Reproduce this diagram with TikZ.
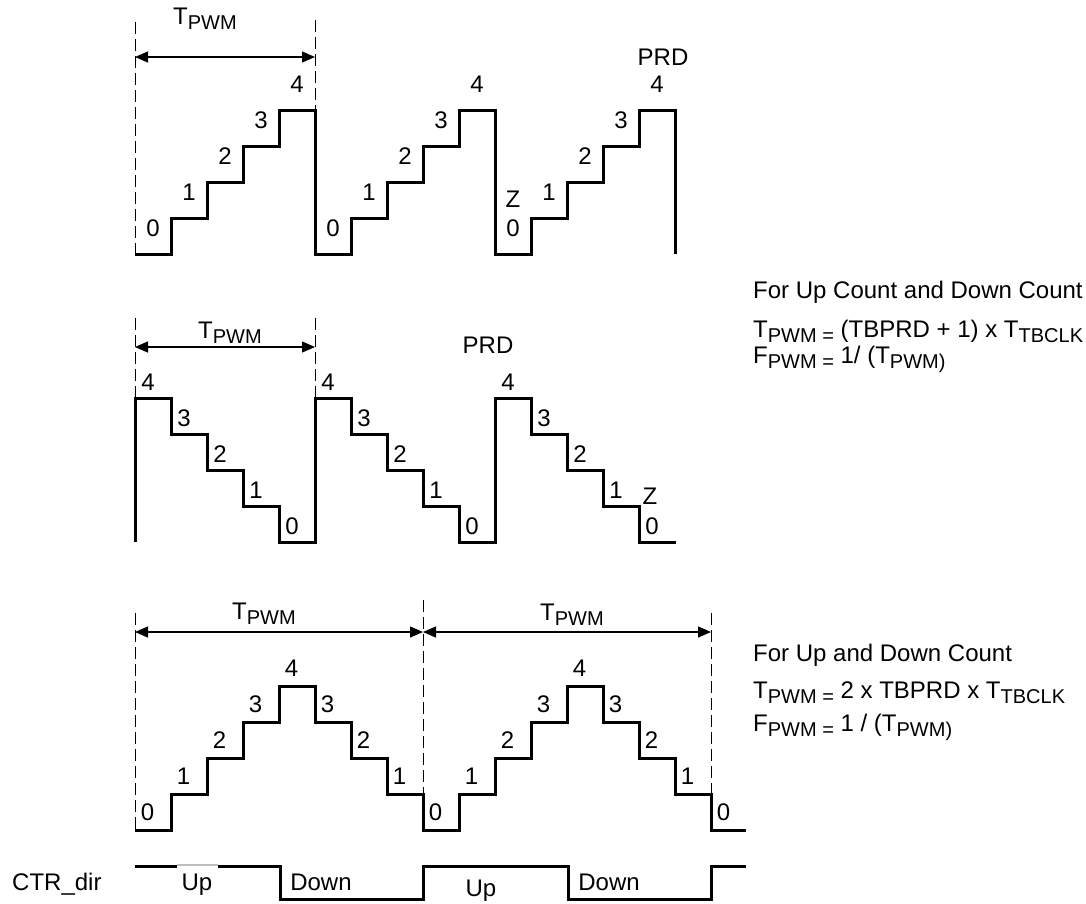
\documentclass[tikz,border=0pt]{standalone}
\usepackage{fontspec}
\setmainfont{Liberation Sans}
\usetikzlibrary{arrows.meta}
\newcommand{\lowsub}[1]{\raisebox{-5pt}{\fontsize{20}{20}\selectfont #1}}

\begin{document}
\begin{tikzpicture}[x=1pt,y=-1pt,>={Triangle[length=13pt,width=11pt]}]
  \tikzstyle{wave}=[line width=3pt]
  \tikzstyle{guide}=[dash pattern=on 12pt off 5pt, line width=0.8pt]
  \tikzstyle{dim}=[<->, line width=1.2pt]
  \tikzstyle{num}=[inner sep=0pt, font=\fontsize{24}{28}\selectfont]
  \tikzstyle{txt}=[num, anchor=base west]

  \useasboundingbox (0,0) rectangle (1086,903);

  % Up count
  \draw[guide] (135,22) -- (135,254);
  \draw[guide] (315,20) -- (315,110);
  \coordinate (upL) at (135,57);
  \coordinate (upR) at (315,57);
  \draw[dim] (upL) -- (upR);
  \node[txt] (upT) at (173,24) {T\lowsub{PWM}};
  \draw[wave] (135,254) -| (171,218) -| (207,182) -| (243,146) -| (279,110) -| (315,254)
    -| (351,218) -| (387,182) -| (423,146) -| (459,110) -| (495,254)
    -| (531,218) -| (567,182) -| (603,146) -| (639,110) -| (675,254);
  \foreach \s [count=\p] in {135,315,495}
    \foreach \k in {0,...,4}
      \node[num] (up-\p-\k) at ({\s+18+36*\k},{228-36*\k}) {\k};
  \node[num] (upZ) at (513,199) {Z};
  \node[num] (upPRD) at (663,57) {PRD};

  % Down count
  \draw[guide] (135,318) -- (135,398);
  \draw[guide] (315,318) -- (315,398);
  \coordinate (dnL) at (135,347);
  \coordinate (dnR) at (315,347);
  \draw[dim] (dnL) -- (dnR);
  \node[txt] (dnT) at (198,338) {T\lowsub{PWM}};
  \draw[wave] (135,542) |- (171,398) |- (207,434) |- (243,470) |- (279,506) |- (315,542)
    |- (351,398) |- (387,434) |- (423,470) |- (459,506) |- (495,542)
    |- (531,398) |- (567,434) |- (603,470) |- (639,506) |- (676,542);
  \foreach \s [count=\p] in {135,315,495}
    \foreach \k in {0,...,4} {
      \pgfmathtruncatemacro{\lv}{4-\k}
      \node[num] (dn-\p-\lv) at ({\s+13+36*\k},{382+36*\k}) {\lv};
    }
  \node[num] (dnZ) at (650,496) {Z};
  \node[num] (dnPRD) at (488,345) {PRD};

  % Up-down count
  \draw[guide] (135,613) -- (135,830);
  \draw[guide] (423,600) -- (423,794);
  \draw[guide] (711,613) -- (711,794);
  \coordinate (udL) at (135,632);
  \coordinate (udM) at (423,632);
  \coordinate (udR) at (711,632);
  \draw[dim] (udL) -- (udM);
  \draw[dim] (udM) -- (udR);
  \node[txt] (udT1) at (232,619) {T\lowsub{PWM}};
  \node[txt] (udT2) at (540,620) {T\lowsub{PWM}};
  \draw[wave] (135,830) -| (171,794) -| (207,758) -| (243,722) -| (279,686) -| (315,722)
    -| (351,758) -| (387,794) -| (423,830) -| (459,794) -| (495,758) -| (531,722)
    -| (567,686) -| (603,722) -| (639,758) -| (675,794) -| (711,830) -- (746,830);
  \foreach \s [count=\p] in {135,423}
    \foreach \lv [count=\j from 0] in {0,1,2,3,4,3,2,1}
      \node[num] (ud-\p-\j) at ({\s+12.5+36*\j},{812-36*\lv}) {\lv};
  \node[num] (ud-end) at (723.5,812) {0};

  % Counter direction
  \node[txt] (dir) at (12,890) {CTR\_dir};
  \draw[wave] (135,866) -| (280,899) -| (423,866) -| (568,899) -| (711,866) -- (746,866);
  \draw[white, line width=3.2pt] (177,866) -- (218,866);
  \draw[gray!50, line width=1.3pt] (177,865) -- (218,865);
  \node[num, anchor=base] (dirUp1) at (197,890) {Up};
  \node[num, anchor=base] (dirDn1) at (321,890) {Down};
  \node[num, anchor=base] (dirUp2) at (481,896) {Up};
  \node[num, anchor=base] (dirDn2) at (609,890) {Down};

  % Formulas
  \node[txt] (frm1a) at (753,298) {For Up Count and Down Count};
  \node[txt] (frm1b) at (753,337) {T\lowsub{PWM =} (TBPRD + 1) x T\lowsub{TBCLK}};
  \node[txt] (frm1c) at (753,363) {F\lowsub{PWM =} 1/ (T\lowsub{PWM)}};
  \node[txt] (frm2a) at (753,661) {For Up and Down Count};
  \node[txt] (frm2b) at (753,698) {T\lowsub{PWM =} 2 x TBPRD x T\lowsub{TBCLK}};
  \node[txt] (frm2c) at (753,731) {F\lowsub{PWM =} 1 / (T\lowsub{PWM)}};
\end{tikzpicture}
\end{document}
